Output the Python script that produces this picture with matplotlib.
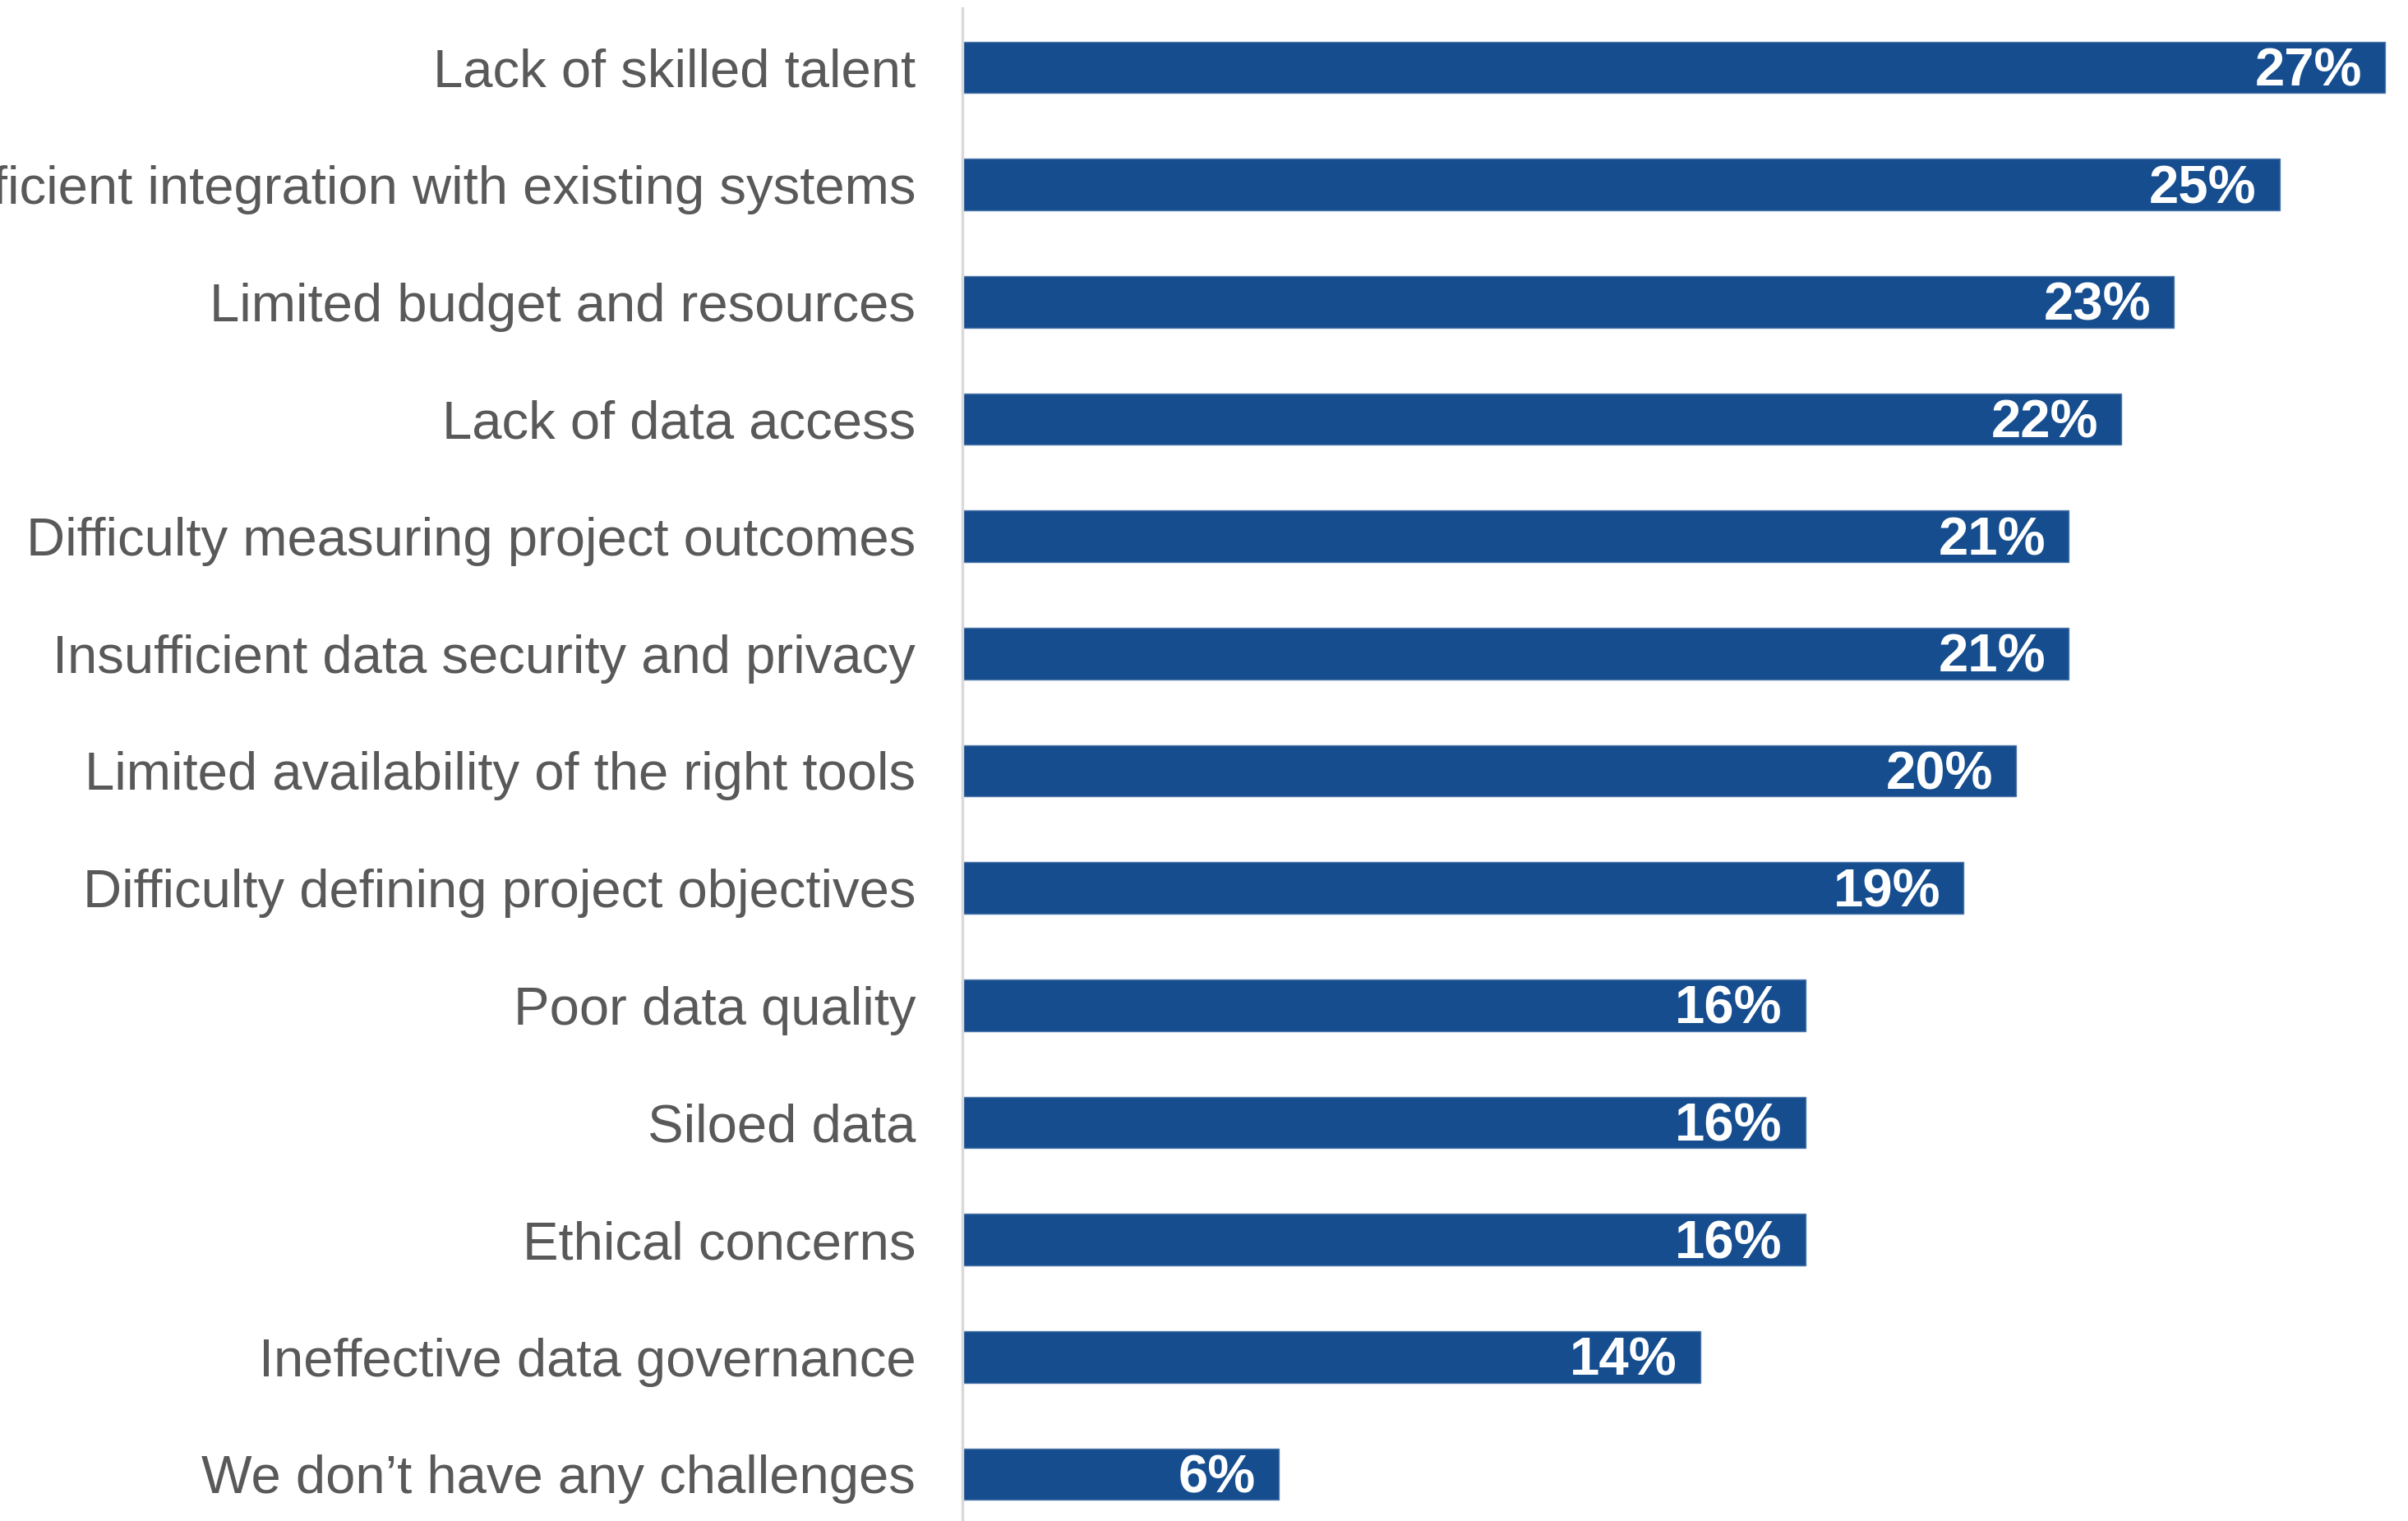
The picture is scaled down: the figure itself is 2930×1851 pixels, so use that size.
import matplotlib.pyplot as plt

# Survey results: challenges, share of respondents (%)
categories = [
    "Lack of skilled talent",
    "Insufficient integration with existing systems",
    "Limited budget and resources",
    "Lack of data access",
    "Difficulty measuring project outcomes",
    "Insufficient data security and privacy",
    "Limited availability of the right tools",
    "Difficulty defining project objectives",
    "Poor data quality",
    "Siloed data",
    "Ethical concerns",
    "Ineffective data governance",
    "We don\u2019t have any challenges",
]
values = [27, 25, 23, 22, 21, 21, 20, 19, 16, 16, 16, 14, 6]
value_labels = [f"{v}%" for v in values]

BAR_COLOR = "#154D8F"
TEXT_COLOR = "#595959"

plt.rcParams["font.family"] = ["Liberation Sans", "DejaVu Sans"]

fig = plt.figure(figsize=(29.30, 18.51), dpi=100)
ax = fig.add_axes([0.3997, 0.0, 0.6003, 0.9946])

ypos = list(range(len(categories)))
ax.barh(ypos, values, height=0.44, color=BAR_COLOR,
        edgecolor="#4F78AA", linewidth=1.0)

# value labels sit inside the right end of each bar
for y, v, lab in zip(ypos, values, value_labels):
    ax.annotate(lab, xy=(v, y), xytext=(-20, -4), textcoords="offset points",
                ha="right", va="center", color="white",
                fontsize=47, fontweight="bold")

ax.set_xlim(0, 27.44)
ax.set_ylim(12.40, -0.505)

ax.set_yticks(ypos)
ax.set_yticklabels(categories, fontsize=47, color=TEXT_COLOR)
ax.tick_params(axis="y", length=0, pad=41)
ax.set_xticks([])

for side in ["top", "right", "bottom"]:
    ax.spines[side].set_visible(False)
ax.spines["left"].set_color("#D9D9D9")
ax.spines["left"].set_linewidth(2.5)

fig.savefig("out.png", dpi=100)
